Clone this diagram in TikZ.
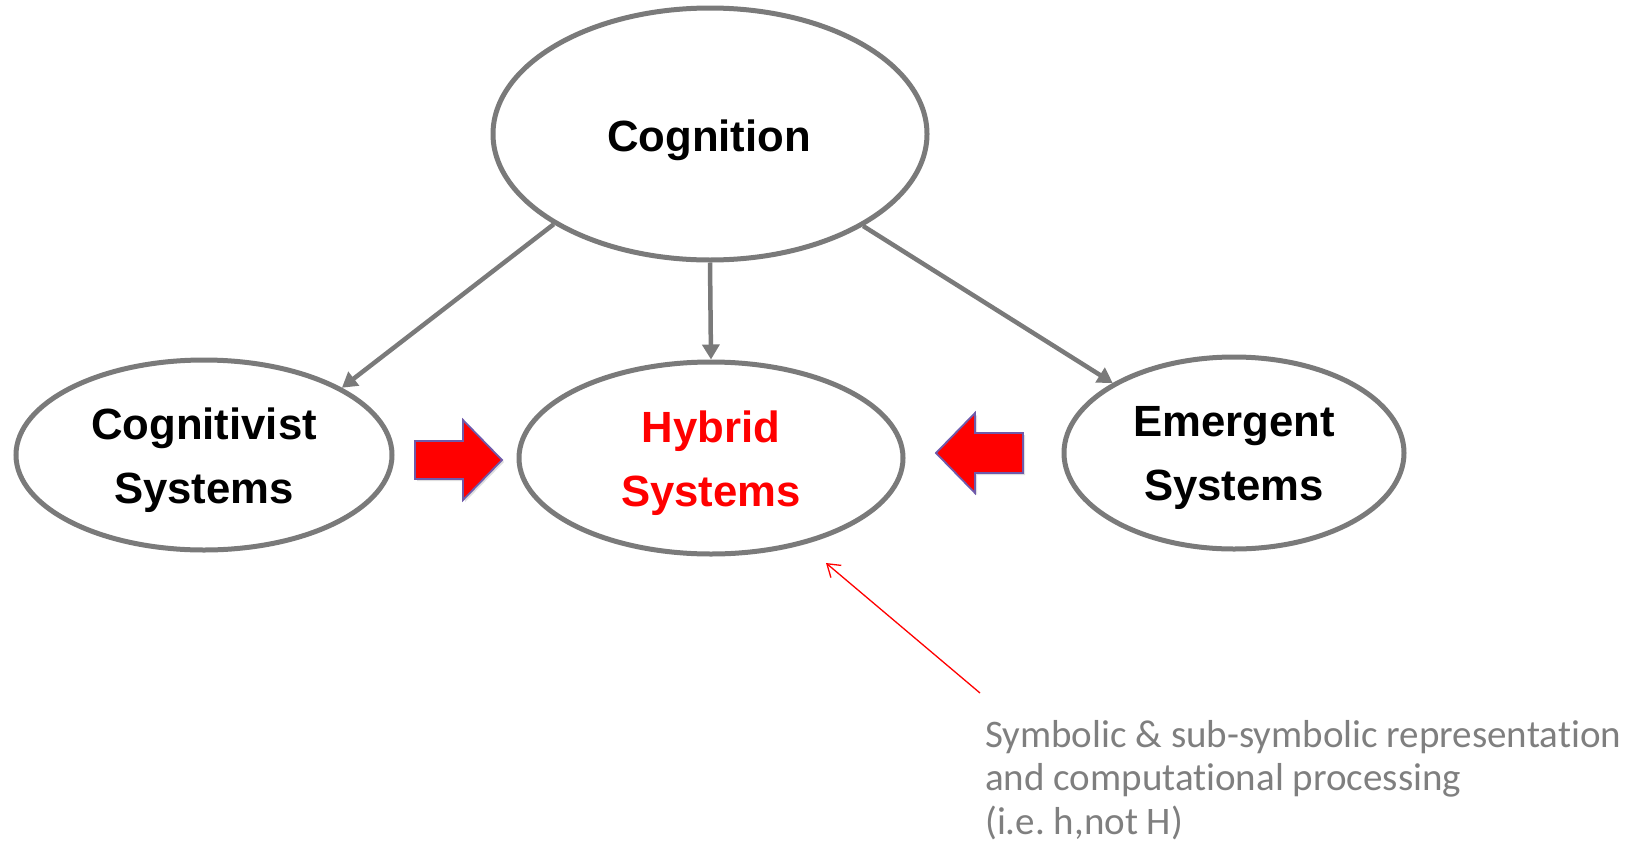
\documentclass[tikz,border=0pt]{standalone}
\usepackage{fontspec}
\setmainfont{Liberation Sans}
\newfontfamily\annfont[Ligatures=NoCommon]{Carlito}
\usetikzlibrary{arrows.meta,shapes.geometric,shadows}
\definecolor{ellgray}{RGB}{122,122,122}
\definecolor{anngray}{RGB}{127,127,127}
\definecolor{arrowborder}{RGB}{110,90,170}
\tikzset{
  x=1pt,y=-1pt,
  ell/.style={ellipse,draw=ellgray,line width=5pt,fill=white,inner sep=0pt},
  lbl/.style={font=\fontsize{43.7}{64.6}\selectfont\bfseries,align=center},
  conn/.style={draw=ellgray,line width=4.5pt,-{Triangle[length=15pt,width=17pt]}},
  blockarrow/.style={fill=red,draw=arrowborder,line width=1.8pt,line join=miter,
     drop shadow={shadow xshift=2pt,shadow yshift=-2pt,opacity=0.25}},
  annarrow/.style={draw=red,line width=1.3pt,-{Straight Barb[length=12pt,width=16pt]}},
  anntext/.style={font=\annfont\fontsize{39}{43.7}\selectfont,text=anngray,align=left,inner sep=0pt}
}
\begin{document}
\begin{tikzpicture}
\useasboundingbox (0,0) rectangle (1633,849);
\node[ell,minimum width=434pt,minimum height=252pt] (cog) at (710,134) {};
\node[ell,minimum width=376pt,minimum height=190pt] (cgv) at (204,455) {};
\node[ell,minimum width=384pt,minimum height=192pt] (hyb) at (711,458) {};
\node[ell,minimum width=340pt,minimum height=192pt] (emg) at (1234,453) {};
\node[lbl] (cogt) at (709,140) {Cognition};
\node[lbl] (cgvt) at (204,460) {Cognitivist\\Systems};
\node[lbl,text=red] (hybt) at (711,463) {Hybrid\\Systems};
\node[lbl] (emgt) at (1234,458) {Emergent\\Systems};
\draw[conn] (cog.210.1) -- (cgv.26.9);
\draw[conn] (cog.south) -- (hyb.north);
\draw[conn] (cog.329.4) -- (emg.150.4);
\draw[blockarrow] (415,441) -- (463,441) -- (463,420) -- (502,460) -- (463,500) -- (463,479) -- (415,479) -- cycle;
\draw[blockarrow] (1023,433) -- (975,433) -- (975,413) -- (936,453) -- (975,493) -- (975,473) -- (1023,473) -- cycle;
\coordinate (annstart) at (980,693);
\coordinate (annend) at (826,563);
\draw[annarrow] (annstart) -- (annend);
\node[anntext,anchor=base west] (ann) at (985,834.4) {Symbolic \& sub-symbolic representation\\and computational processing\\(i.e.\ h,not H)};
\end{tikzpicture}
\end{document}
